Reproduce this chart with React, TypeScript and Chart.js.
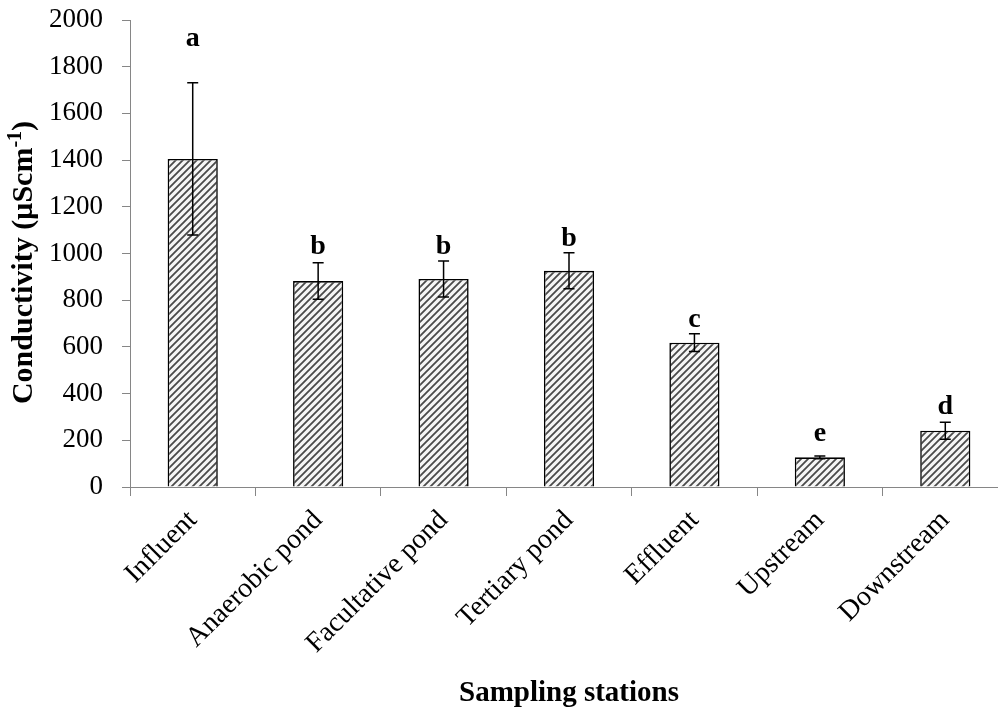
import React, { useEffect, useRef } from 'react';
import { Chart, registerables } from 'chart.js';

Chart.register(...registerables);

const categories = ['Influent', 'Anaerobic pond', 'Facultative pond', 'Tertiary pond', 'Effluent', 'Upstream', 'Downstream'];
const means = [1405, 882, 891, 926, 618, 127, 241];
const errors = [326, 78, 77, 77, 38, 6, 36];
const letters = ['a', 'b', 'b', 'b', 'c', 'e', 'd'];
const letterLevels = [1890, 998, 998, 1032, 685, 197, 313];
const yMin = 0;
const yMax = 2000;
const yStep = 200;
const xTitle = 'Sampling stations';
const yTitleMain = 'Conductivity (µScm';
const yTitleSup = '-1';
const yTitleEnd = ')';

const SERIF = "'Liberation Serif', 'Times New Roman', serif";
const AXIS_GRAY = '#868686';

function makePattern(ctx: CanvasRenderingContext2D): CanvasPattern | string {
  const s = 7;
  const c = document.createElement('canvas');
  c.width = s;
  c.height = s;
  const g = c.getContext('2d');
  if (!g) return '#888';
  g.fillStyle = '#f6f6f6';
  g.fillRect(0, 0, s, s);
  g.strokeStyle = '#4a4a4a';
  g.lineWidth = 1.8;
  g.beginPath();
  g.moveTo(-1, s + 1);
  g.lineTo(s + 1, -1);
  g.moveTo(-2, 2);
  g.lineTo(2, -2);
  g.moveTo(s - 2, s + 2);
  g.lineTo(s + 2, s - 2);
  g.stroke();
  return ctx.createPattern(c, 'repeat') || '#888';
}

const overlayPlugin = {
  id: 'overlay',
  afterDatasetsDraw(chart: any) {
    const { ctx, scales } = chart;
    const x = scales.x;
    const y = scales.y;
    ctx.save();
    ctx.strokeStyle = '#000';
    ctx.lineWidth = 1.5;
    means.forEach((m, i) => {
      const cx = x.getPixelForValue(i);
      const top = y.getPixelForValue(m + errors[i]);
      const bot = y.getPixelForValue(m - errors[i]);
      ctx.beginPath();
      ctx.moveTo(cx, top);
      ctx.lineTo(cx, bot);
      ctx.moveTo(cx - 5.5, top);
      ctx.lineTo(cx + 5.5, top);
      ctx.moveTo(cx - 5.5, bot);
      ctx.lineTo(cx + 5.5, bot);
      ctx.stroke();
    });
    ctx.fillStyle = '#000';
    ctx.font = `bold 28px ${SERIF}`;
    ctx.textAlign = 'center';
    ctx.textBaseline = 'alphabetic';
    letters.forEach((t, i) => {
      ctx.fillText(t, x.getPixelForValue(i), y.getPixelForValue(letterLevels[i]));
    });
    ctx.restore();
  },
  afterDraw(chart: any) {
    const { ctx, chartArea } = chart;
    ctx.save();
    ctx.fillStyle = '#000';
    ctx.font = `bold 29px ${SERIF}`;
    ctx.textAlign = 'center';
    ctx.textBaseline = 'alphabetic';
    ctx.fillText(xTitle, (chartArea.left + chartArea.right) / 2, 701);
    const big = `bold 30px ${SERIF}`;
    const small = `bold 20px ${SERIF}`;
    ctx.font = big;
    const w1 = ctx.measureText(yTitleMain).width;
    const w3 = ctx.measureText(yTitleEnd).width;
    ctx.font = small;
    const w2 = ctx.measureText(yTitleSup).width;
    const total = w1 + w2 + w3;
    const cy = (chartArea.top + chartArea.bottom) / 2 + 9;
    ctx.translate(32, cy);
    ctx.rotate(-Math.PI / 2);
    ctx.textAlign = 'left';
    let px = -total / 2;
    ctx.font = big;
    ctx.fillText(yTitleMain, px, 0);
    px += w1;
    ctx.font = small;
    ctx.fillText(yTitleSup, px, -11);
    px += w2;
    ctx.font = big;
    ctx.fillText(yTitleEnd, px, 0);
    ctx.restore();
  },
};

export default function App() {
  const ref = useRef<HTMLCanvasElement | null>(null);
  useEffect(() => {
    const canvas = ref.current;
    if (!canvas) return;
    const ctx = canvas.getContext('2d');
    if (!ctx) return;
    const pattern = makePattern(ctx);
    const chart = new Chart(ctx, {
      type: 'bar',
      data: {
        labels: categories,
        datasets: [
          {
            data: means,
            backgroundColor: pattern as any,
            borderColor: '#000',
            borderWidth: 1.6,
            borderSkipped: 'bottom',
            barPercentage: 0.4,
            categoryPercentage: 1,
          },
        ],
      },
      options: {
        responsive: false,
        animation: false,
        devicePixelRatio: 1,
        layout: { padding: { top: 20, right: 4, left: 0, bottom: 0 } },
        plugins: { legend: { display: false }, tooltip: { enabled: false }, title: { display: false } },
        scales: {
          x: {
            type: 'category',
            offset: true,
            grid: { offset: true, drawOnChartArea: false, drawTicks: true, tickLength: 9, color: AXIS_GRAY, lineWidth: 1 },
            border: { color: AXIS_GRAY, width: 1 },
            ticks: {
              autoSkip: false,
              minRotation: 45,
              maxRotation: 45,
              color: '#000',
              padding: 8,
              font: { family: SERIF, size: 28 },
            },
            afterFit: (s: any) => {
              s.height = 224;
              s.paddingLeft = 0;
              s.paddingRight = 0;
            },
          },
          y: {
            min: yMin,
            max: yMax,
            grid: { drawOnChartArea: false, drawTicks: true, tickLength: 8, color: AXIS_GRAY, lineWidth: 1 },
            border: { color: AXIS_GRAY, width: 1 },
            ticks: {
              stepSize: yStep,
              color: '#000',
              padding: 19,
              font: { family: SERIF, size: 27 },
              callback: (v: any) => String(v),
            },
            afterFit: (s: any) => {
              s.width = 130;
              s.paddingTop = 0;
              s.paddingBottom = 0;
            },
          },
        },
      },
      plugins: [overlayPlugin],
    });
    return () => chart.destroy();
  }, []);
  return (
    <div style={{ position: 'absolute', left: 0, top: 0, width: 998, height: 711, overflow: 'hidden', background: '#fff' }}>
      <canvas ref={ref} width={1012} height={711} style={{ display: 'block', width: 1012, height: 711 }} />
    </div>
  );
}
